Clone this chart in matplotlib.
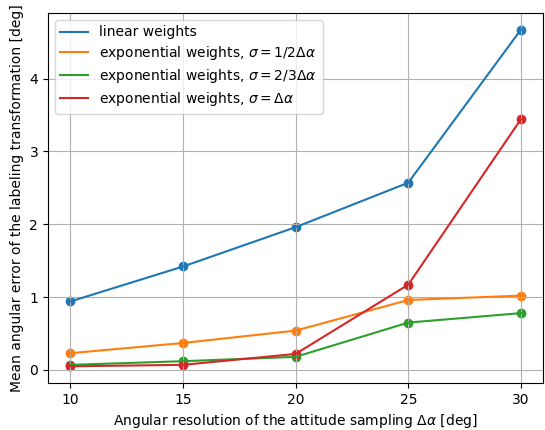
import numpy as np
import matplotlib.pyplot as plt

resolution = [10, 15, 20, 25, 30]
err_linear = [0.94, 1.42, 1.96, 2.57, 4.67]
err_exp_half = [0.23, 0.37, 0.54, 0.96, 1.02]
err_exp_two_thirds = [0.07, 0.12, 0.18, 0.65, 0.78]
err_exp_full = [0.05, 0.07, 0.22, 1.17, 3.44]

labels = [
    "linear weights",
    r"exponential weights, $\sigma = 1/2\Delta\alpha$",
    r"exponential weights, $\sigma = 2/3\Delta\alpha$",
    r"exponential weights, $\sigma = \Delta\alpha$",
]
series = [err_linear, err_exp_half, err_exp_two_thirds, err_exp_full]

fig = plt.figure(figsize=(5.45, 4.3), dpi=100)
ax = fig.add_axes([0.088, 0.109, 0.909, 0.861])
for i, (vals, lab) in enumerate(zip(series, labels)):
    c = f"C{i}"
    ax.plot(resolution, vals, color=c, label=lab)
    ax.scatter(resolution, vals, color=c, s=36)

ax.set_xticks([10, 15, 20, 25, 30])
ax.set_yticks([0, 1, 2, 3, 4])
ax.grid(True)
ax.set_xlabel(r"Angular resolution of the attitude sampling $\Delta\alpha$ [deg]")
ax.set_ylabel("Mean angular error of the labeling transformation [deg]")
ax.legend(loc="upper left", labelspacing=0.35)
fig.savefig("out.png", dpi=100)
